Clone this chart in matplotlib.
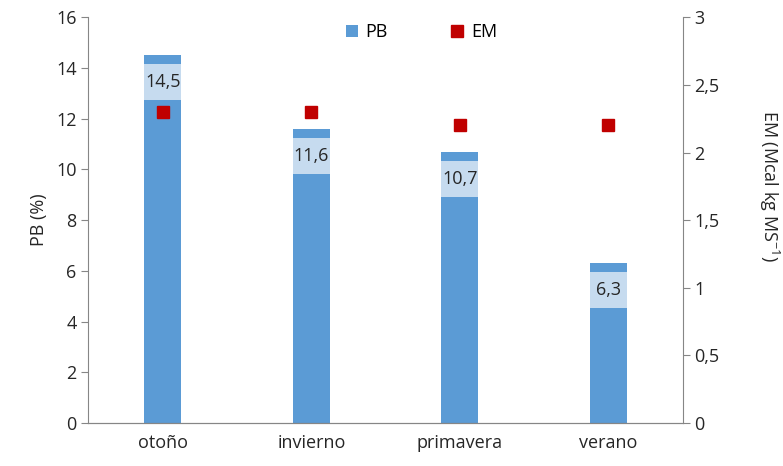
import matplotlib.pyplot as plt
from matplotlib.ticker import FuncFormatter

plt.rcParams['font.family'] = ['Open Sans', 'DejaVu Sans']
plt.rcParams['mathtext.default'] = 'regular'

# data
estaciones = ['otoño', 'invierno', 'primavera', 'verano']
pb = [14.5, 11.6, 10.7, 6.3]      # PB (%)
em = [2.3, 2.3, 2.2, 2.2]         # EM (Mcal kg MS-1)

azul = '#5b9bd5'
azul_claro = '#c6dbef'
rojo = '#c00000'
gris = '#868686'
texto = '#262626'

fig, ax = plt.subplots(figsize=(7.83, 4.66), dpi=100)
fig.subplots_adjust(left=0.113, right=0.872, top=0.963, bottom=0.092)
ax2 = ax.twinx()

x = list(range(len(estaciones)))
ancho = 0.25
ax.bar(x, pb, width=ancho, color=azul, label='PB', zorder=2)
ax2.plot(x, em, 's', color=rojo, markersize=8, label='EM', zorder=3)

# value labels inside each bar, near the top, on a light band
for xi, v in zip(x, pb):
    ax.bar(xi, 1.42, bottom=v - 1.77, width=ancho, color=azul_claro, zorder=3)
    ax.text(xi, v - 1.06, f'{v:.1f}'.replace('.', ','), ha='center', va='center',
            fontsize=13, color=texto, zorder=4)

ax.set_xlim(-0.5, 3.5)
ax.set_ylim(0, 16)
ax.set_yticks(range(0, 17, 2))
ax2.set_ylim(0, 3)
ax2.set_yticks([0, 0.5, 1, 1.5, 2, 2.5, 3])
ax2.yaxis.set_major_formatter(FuncFormatter(lambda v, p: f'{v:g}'.replace('.', ',')))

ax.set_xticks(x)
ax.set_xticklabels(estaciones)
ax.set_ylabel('PB (%)', fontsize=13, color=texto, labelpad=6)
ax2.set_ylabel('EM (Mcal kg MS$^{-1}$)', fontsize=13, color=texto,
               rotation=270, labelpad=44)
ax2.yaxis.label.set_y(0.585)

for a in (ax, ax2):
    a.spines['top'].set_visible(False)
    for s in ('left', 'right', 'bottom'):
        a.spines[s].set_color(gris)
    a.tick_params(colors=gris, labelcolor=texto, labelsize=13, length=5)
ax.tick_params(axis='x', length=0, pad=8)
ax2.spines['left'].set_visible(False)
ax.spines['right'].set_visible(False)

h1, l1 = ax.get_legend_handles_labels()
h2, l2 = ax2.get_legend_handles_labels()
ax.legend(h1 + h2, l1 + l2, loc='upper center', bbox_to_anchor=(0.56, 1.025),
          ncol=2, frameon=False, fontsize=13, columnspacing=3.5,
          handlelength=0.7, handleheight=0.7, handletextpad=0.4)

fig.savefig('out.png')
